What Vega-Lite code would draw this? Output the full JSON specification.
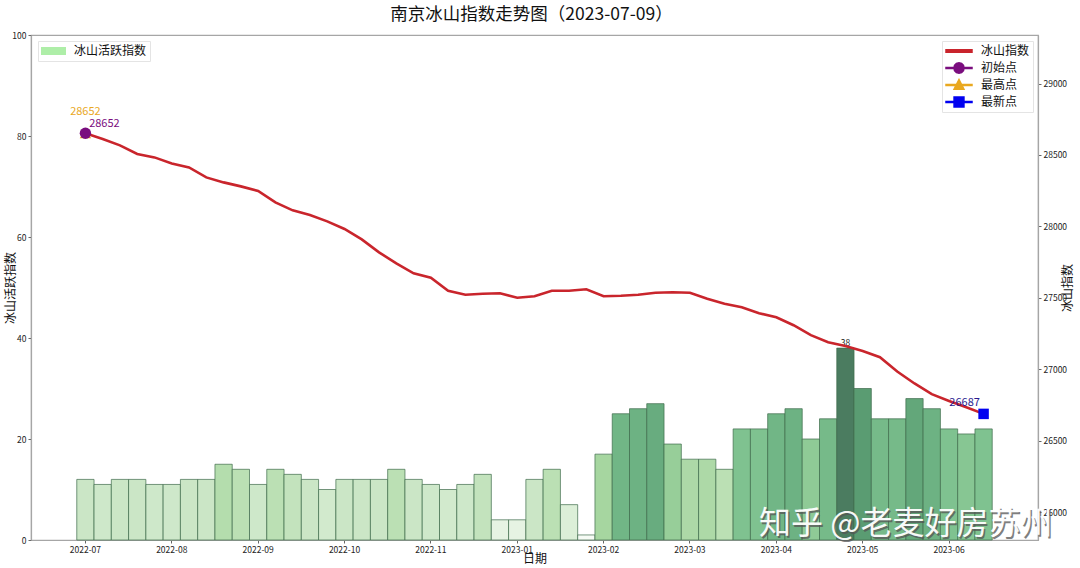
{
  "$schema": "https://vega.github.io/schema/vega-lite/v6.json",
  "autosize": "none",
  "width": 1007,
  "height": 505,
  "padding": {"left": 31, "top": 35, "right": 42, "bottom": 28},
  "background": "white",
  "title": {"text": "南京冰山指数走势图（2023-07-09）", "fontSize": 17.5, "fontWeight": "normal", "font": "Noto Sans CJK SC", "color": "#111", "anchor": "middle", "dx": -3, "offset": 8},
  "config": {
    "font": "Noto Sans CJK SC",
    "view": {"stroke": "#a6a6a6", "strokeWidth": 1.2},
    "axis": {"grid": false, "domainColor": "#a6a6a6", "domainWidth": 1.2, "tickColor": "#666", "tickSize": 3, "labelFontSize": 8.5, "labelColor": "#222", "titleFontSize": 12, "titleFontWeight": "normal", "titleColor": "#111"}
  },
  "datasets": {
    "bars": [
      {"week": "2022-07-1", "count": 12, "series": "冰山活跃指数"},
      {"week": "2022-07-2", "count": 11, "series": "冰山活跃指数"},
      {"week": "2022-07-3", "count": 12, "series": "冰山活跃指数"},
      {"week": "2022-07-4", "count": 12, "series": "冰山活跃指数"},
      {"week": "2022-07-5", "count": 11, "series": "冰山活跃指数"},
      {"week": "2022-08-1", "count": 11, "series": "冰山活跃指数"},
      {"week": "2022-08-2", "count": 12, "series": "冰山活跃指数"},
      {"week": "2022-08-3", "count": 12, "series": "冰山活跃指数"},
      {"week": "2022-08-4", "count": 15, "series": "冰山活跃指数"},
      {"week": "2022-08-5", "count": 14, "series": "冰山活跃指数"},
      {"week": "2022-09-1", "count": 11, "series": "冰山活跃指数"},
      {"week": "2022-09-2", "count": 14, "series": "冰山活跃指数"},
      {"week": "2022-09-3", "count": 13, "series": "冰山活跃指数"},
      {"week": "2022-09-4", "count": 12, "series": "冰山活跃指数"},
      {"week": "2022-09-5", "count": 10, "series": "冰山活跃指数"},
      {"week": "2022-10-1", "count": 12, "series": "冰山活跃指数"},
      {"week": "2022-10-2", "count": 12, "series": "冰山活跃指数"},
      {"week": "2022-10-3", "count": 12, "series": "冰山活跃指数"},
      {"week": "2022-10-4", "count": 14, "series": "冰山活跃指数"},
      {"week": "2022-10-5", "count": 12, "series": "冰山活跃指数"},
      {"week": "2022-11-1", "count": 11, "series": "冰山活跃指数"},
      {"week": "2022-11-2", "count": 10, "series": "冰山活跃指数"},
      {"week": "2022-11-3", "count": 11, "series": "冰山活跃指数"},
      {"week": "2022-11-4", "count": 13, "series": "冰山活跃指数"},
      {"week": "2022-11-5", "count": 4, "series": "冰山活跃指数"},
      {"week": "2023-01-1", "count": 4, "series": "冰山活跃指数"},
      {"week": "2023-01-2", "count": 12, "series": "冰山活跃指数"},
      {"week": "2023-01-3", "count": 14, "series": "冰山活跃指数"},
      {"week": "2023-01-4", "count": 7, "series": "冰山活跃指数"},
      {"week": "2023-01-5", "count": 1, "series": "冰山活跃指数"},
      {"week": "2023-02-1", "count": 17, "series": "冰山活跃指数"},
      {"week": "2023-02-2", "count": 25, "series": "冰山活跃指数"},
      {"week": "2023-02-3", "count": 26, "series": "冰山活跃指数"},
      {"week": "2023-02-4", "count": 27, "series": "冰山活跃指数"},
      {"week": "2023-02-5", "count": 19, "series": "冰山活跃指数"},
      {"week": "2023-03-1", "count": 16, "series": "冰山活跃指数"},
      {"week": "2023-03-2", "count": 16, "series": "冰山活跃指数"},
      {"week": "2023-03-3", "count": 14, "series": "冰山活跃指数"},
      {"week": "2023-03-4", "count": 22, "series": "冰山活跃指数"},
      {"week": "2023-03-5", "count": 22, "series": "冰山活跃指数"},
      {"week": "2023-04-1", "count": 25, "series": "冰山活跃指数"},
      {"week": "2023-04-2", "count": 26, "series": "冰山活跃指数"},
      {"week": "2023-04-3", "count": 20, "series": "冰山活跃指数"},
      {"week": "2023-04-4", "count": 24, "series": "冰山活跃指数"},
      {"week": "2023-04-5", "count": 38, "series": "冰山活跃指数"},
      {"week": "2023-05-1", "count": 30, "series": "冰山活跃指数"},
      {"week": "2023-05-2", "count": 24, "series": "冰山活跃指数"},
      {"week": "2023-05-3", "count": 24, "series": "冰山活跃指数"},
      {"week": "2023-05-4", "count": 28, "series": "冰山活跃指数"},
      {"week": "2023-05-5", "count": 26, "series": "冰山活跃指数"},
      {"week": "2023-06-1", "count": 22, "series": "冰山活跃指数"},
      {"week": "2023-06-2", "count": 21, "series": "冰山活跃指数"},
      {"week": "2023-06-3", "count": 22, "series": "冰山活跃指数"}
    ],
    "index": [
      {"week": "2022-07-1", "value": 28652, "series": "冰山指数"},
      {"week": "2022-07-2", "value": 28612, "series": "冰山指数"},
      {"week": "2022-07-3", "value": 28567, "series": "冰山指数"},
      {"week": "2022-07-4", "value": 28507, "series": "冰山指数"},
      {"week": "2022-07-5", "value": 28483, "series": "冰山指数"},
      {"week": "2022-08-1", "value": 28441, "series": "冰山指数"},
      {"week": "2022-08-2", "value": 28413, "series": "冰山指数"},
      {"week": "2022-08-3", "value": 28343, "series": "冰山指数"},
      {"week": "2022-08-4", "value": 28308, "series": "冰山指数"},
      {"week": "2022-08-5", "value": 28280, "series": "冰山指数"},
      {"week": "2022-09-1", "value": 28248, "series": "冰山指数"},
      {"week": "2022-09-2", "value": 28168, "series": "冰山指数"},
      {"week": "2022-09-3", "value": 28112, "series": "冰山指数"},
      {"week": "2022-09-4", "value": 28080, "series": "冰山指数"},
      {"week": "2022-09-5", "value": 28035, "series": "冰山指数"},
      {"week": "2022-10-1", "value": 27982, "series": "冰山指数"},
      {"week": "2022-10-2", "value": 27909, "series": "冰山指数"},
      {"week": "2022-10-3", "value": 27818, "series": "冰山指数"},
      {"week": "2022-10-4", "value": 27741, "series": "冰山指数"},
      {"week": "2022-10-5", "value": 27671, "series": "冰山指数"},
      {"week": "2022-11-1", "value": 27640, "series": "冰山指数"},
      {"week": "2022-11-2", "value": 27549, "series": "冰山指数"},
      {"week": "2022-11-3", "value": 27521, "series": "冰山指数"},
      {"week": "2022-11-4", "value": 27528, "series": "冰山指数"},
      {"week": "2022-11-5", "value": 27532, "series": "冰山指数"},
      {"week": "2023-01-1", "value": 27500, "series": "冰山指数"},
      {"week": "2023-01-2", "value": 27511, "series": "冰山指数"},
      {"week": "2023-01-3", "value": 27549, "series": "冰山指数"},
      {"week": "2023-01-4", "value": 27549, "series": "冰山指数"},
      {"week": "2023-01-5", "value": 27560, "series": "冰山指数"},
      {"week": "2023-02-1", "value": 27511, "series": "冰山指数"},
      {"week": "2023-02-2", "value": 27514, "series": "冰山指数"},
      {"week": "2023-02-3", "value": 27521, "series": "冰山指数"},
      {"week": "2023-02-4", "value": 27535, "series": "冰山指数"},
      {"week": "2023-02-5", "value": 27539, "series": "冰山指数"},
      {"week": "2023-03-1", "value": 27535, "series": "冰山指数"},
      {"week": "2023-03-2", "value": 27493, "series": "冰山指数"},
      {"week": "2023-03-3", "value": 27458, "series": "冰山指数"},
      {"week": "2023-03-4", "value": 27434, "series": "冰山指数"},
      {"week": "2023-03-5", "value": 27392, "series": "冰山指数"},
      {"week": "2023-04-1", "value": 27364, "series": "冰山指数"},
      {"week": "2023-04-2", "value": 27308, "series": "冰山指数"},
      {"week": "2023-04-3", "value": 27238, "series": "冰山指数"},
      {"week": "2023-04-4", "value": 27189, "series": "冰山指数"},
      {"week": "2023-04-5", "value": 27162, "series": "冰山指数"},
      {"week": "2023-05-1", "value": 27127, "series": "冰山指数"},
      {"week": "2023-05-2", "value": 27084, "series": "冰山指数"},
      {"week": "2023-05-3", "value": 26984, "series": "冰山指数"},
      {"week": "2023-05-4", "value": 26900, "series": "冰山指数"},
      {"week": "2023-05-5", "value": 26825, "series": "冰山指数"},
      {"week": "2023-06-1", "value": 26777, "series": "冰山指数"},
      {"week": "2023-06-2", "value": 26734, "series": "冰山指数"},
      {"week": "2023-06-3", "value": 26687, "series": "冰山指数"}
    ],
    "points": [
      {"week": "2022-07-1", "value": 28652, "series": "最高点", "label": "28652"},
      {"week": "2022-07-1", "value": 28652, "series": "初始点", "label": "28652"},
      {"week": "2023-06-3", "value": 26687, "series": "最新点", "label": "26687"}
    ],
    "peak": [
      {"week": "2023-04-5", "count": 38}
    ],
    "mark": [
      {"week": "2023-03-5", "value": 25915, "text": "知乎 @老麦好房苏州"}
    ]
  },
  "encoding": {
    "x": {
      "field": "week",
      "type": "nominal",
      "sort": null,
      "scale": {
        "paddingInner": 0,
        "paddingOuter": 0.65,
        "domain": ["pad-1", "pad-2", "2022-07-1", "2022-07-2", "2022-07-3", "2022-07-4", "2022-07-5", "2022-08-1", "2022-08-2", "2022-08-3", "2022-08-4", "2022-08-5", "2022-09-1", "2022-09-2", "2022-09-3", "2022-09-4", "2022-09-5", "2022-10-1", "2022-10-2", "2022-10-3", "2022-10-4", "2022-10-5", "2022-11-1", "2022-11-2", "2022-11-3", "2022-11-4", "2022-11-5", "2023-01-1", "2023-01-2", "2023-01-3", "2023-01-4", "2023-01-5", "2023-02-1", "2023-02-2", "2023-02-3", "2023-02-4", "2023-02-5", "2023-03-1", "2023-03-2", "2023-03-3", "2023-03-4", "2023-03-5", "2023-04-1", "2023-04-2", "2023-04-3", "2023-04-4", "2023-04-5", "2023-05-1", "2023-05-2", "2023-05-3", "2023-05-4", "2023-05-5", "2023-06-1", "2023-06-2", "2023-06-3", "pad-3", "pad-4"]
      },
      "axis": {
        "title": "日期",
        "titlePadding": 0,
        "labelAngle": 0,
        "labelPadding": 2,
        "values": ["2022-07-1", "2022-08-1", "2022-09-1", "2022-10-1", "2022-11-1", "2023-01-1", "2023-02-1", "2023-03-1", "2023-04-1", "2023-05-1", "2023-06-1"],
        "labelExpr": "slice(datum.value, 0, 7)"
      }
    }
  },
  "layer": [
    {
      "layer": [
        {
          "data": {"name": "bars"},
          "mark": {"type": "bar", "stroke": "#3f6b4c", "strokeWidth": 1, "strokeOpacity": 0.7},
          "encoding": {
            "y": {"field": "count", "type": "quantitative", "scale": {"domain": [0, 100]}, "axis": {"title": "冰山活跃指数", "values": [0, 20, 40, 60, 80, 100], "titlePadding": -6}},
            "fill": {
              "field": "count",
              "type": "quantitative",
              "legend": null,
              "scale": {
                "domain": [1, 4, 7, 12, 14, 17, 22, 26, 30, 38],
                "range": ["#f6fbf5", "#e6f3e3", "#dcefd8", "#cbe6c6", "#bbe0b4", "#a6d6a0", "#7fc290", "#6db283", "#5a9c72", "#4b7c60"]
              }
            },
            "opacity": {
              "field": "series",
              "type": "nominal",
              "scale": {"range": [1]},
              "legend": {
                "title": null,
                "orient": "none",
                "legendX": 7,
                "legendY": 6,
                "fillColor": "white",
                "strokeColor": "#e4e4e4",
                "padding": 3,
                "symbolType": "M-1,-0.32L1,-0.32L1,0.32L-1,0.32Z",
                "symbolSize": 625,
                "clipHeight": 14,
                "symbolFillColor": "#aeeea8",
                "symbolStrokeWidth": 0,
                "symbolOpacity": 1,
                "labelFontSize": 12,
                "labelColor": "#111",
                "labelOffset": 8
              }
            }
          }
        },
        {
          "data": {"name": "peak"},
          "mark": {"type": "text", "fontSize": 8.5, "color": "#222", "dy": -5},
          "encoding": {
            "y": {"field": "count", "type": "quantitative"},
            "text": {"field": "count", "type": "quantitative"}
          }
        }
      ]
    },
    {
      "encoding": {
        "y": {
          "field": "value",
          "type": "quantitative",
          "scale": {"domain": [25804, 29340], "zero": false},
          "axis": {"orient": "right", "title": "冰山指数", "titleAngle": 270, "titlePadding": 8, "format": "d", "values": [26000, 26500, 27000, 27500, 28000, 28500, 29000]}
        }
      },
      "layer": [
        {
          "data": {"name": "index"},
          "mark": {"type": "line", "strokeWidth": 2.6, "interpolate": "linear"},
          "encoding": {
            "color": {
              "field": "series",
              "type": "nominal",
              "scale": {"domain": ["冰山指数", "初始点", "最高点", "最新点"], "range": ["#c9252c", "#7a0d7e", "#e9a81f", "#0000f0"]},
              "legend": {
                "title": null,
                "orient": "none",
                "legendX": 911,
                "legendY": 6,
                "fillColor": "white",
                "strokeColor": "#e4e4e4",
                "padding": 3,
                "labelFontSize": 12,
                "labelColor": "#111",
                "labelOffset": 8,
                "symbolSize": 676,
                "clipHeight": 14,
                "rowPadding": 3,
                "symbolOpacity": 1,
                "encoding": {
                  "symbols": {
                    "update": {
                      "fill": {"signal": "datum.value === '冰山指数' ? '#c9252c' : datum.value === '初始点' ? '#7a0d7e' : datum.value === '最高点' ? '#e9a81f' : '#0000f0'"},
                      "stroke": {"value": "transparent"},
                      "strokeWidth": {"value": 0},
                      "opacity": {"value": 1}
                    }
                  }
                }
              }
            }
          }
        },
        {
          "data": {"name": "points"},
          "transform": [{"filter": "datum.value < 0"}],
          "mark": {"type": "point", "filled": true, "opacity": 1},
          "encoding": {
            "color": {"field": "series", "type": "nominal"},
            "shape": {
              "field": "series",
              "type": "nominal",
              "scale": {
                "domain": ["冰山指数", "初始点", "最高点", "最新点"],
                "range": [
                  "M-1,-0.1L1,-0.1L1,0.1L-1,0.1Z",
                  "M-1,-0.03L-0.38,-0.03L-0.346,-0.2L-0.2,-0.346L0,-0.4L0.2,-0.346L0.346,-0.2L0.38,-0.03L1,-0.03L1,0.03L0.38,0.03L0.346,0.2L0.2,0.346L0,0.4L-0.2,0.346L-0.346,0.2L-0.38,0.03L-1,0.03Z",
                  "M-1,-0.03L-0.2,-0.03L0,-0.42L0.2,-0.03L1,-0.03L1,0.03L0.23,0.03L0.38,0.32L-0.38,0.32L-0.23,0.03L-1,0.03Z",
                  "M-1,-0.03L-0.38,-0.03L-0.38,-0.38L0.38,-0.38L0.38,-0.03L1,-0.03L1,0.03L0.38,0.03L0.38,0.38L-0.38,0.38L-0.38,0.03L-1,0.03Z"
                ]
              },
              "legend": {"title": null}
            }
          }
        },
        {
          "data": {"name": "points"},
          "transform": [{"filter": "datum.series === '最高点'"}],
          "mark": {"type": "point", "filled": true, "size": 130, "opacity": 1, "shape": "triangle-up"},
          "encoding": {"color": {"field": "series", "type": "nominal"}}
        },
        {
          "data": {"name": "points"},
          "transform": [{"filter": "datum.series === '初始点'"}],
          "mark": {"type": "point", "filled": true, "size": 130, "opacity": 1, "shape": "circle"},
          "encoding": {"color": {"field": "series", "type": "nominal"}}
        },
        {
          "data": {"name": "points"},
          "transform": [{"filter": "datum.series === '最新点'"}],
          "mark": {"type": "point", "filled": true, "size": 110, "opacity": 1, "shape": "square"},
          "encoding": {"color": {"field": "series", "type": "nominal"}}
        },
        {
          "data": {"name": "points"},
          "transform": [{"filter": "datum.series === '最高点'"}],
          "mark": {"type": "text", "fontSize": 11, "dx": 0, "dy": -21, "color": "#e9a81f"},
          "encoding": {"text": {"field": "label"}}
        },
        {
          "data": {"name": "points"},
          "transform": [{"filter": "datum.series === '初始点'"}],
          "mark": {"type": "text", "fontSize": 11, "dx": 19, "dy": -9, "color": "#7a0d7e"},
          "encoding": {"text": {"field": "label"}}
        },
        {
          "data": {"name": "points"},
          "transform": [{"filter": "datum.series === '最新点'"}],
          "mark": {"type": "text", "fontSize": 11, "dx": -19, "dy": -11, "color": "#2a1a8f"},
          "encoding": {"text": {"field": "label"}}
        },
        {
          "data": {"name": "mark"},
          "mark": {"type": "text", "align": "left", "fontSize": 32, "color": "#555", "opacity": 0.75, "dx": 1.5, "dy": 1.5},
          "encoding": {"text": {"field": "text"}}
        },
        {
          "data": {"name": "mark"},
          "mark": {"type": "text", "align": "left", "fontSize": 32, "color": "white", "opacity": 0.95},
          "encoding": {"text": {"field": "text"}}
        }
      ]
    }
  ],
  "resolve": {"scale": {"y": "independent"}}
}
